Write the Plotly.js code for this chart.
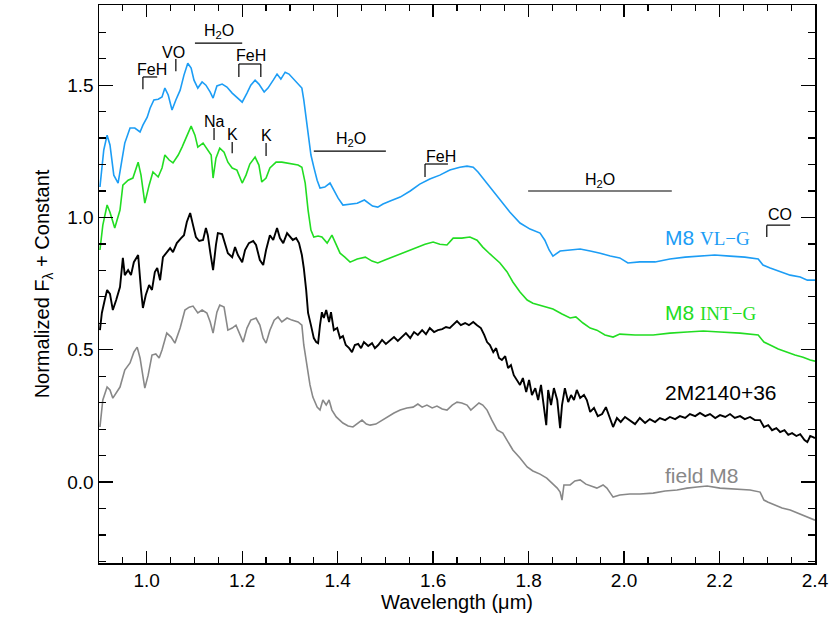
<!DOCTYPE html>
<html>
<head>
<meta charset="utf-8">
<script src="https://cdn.plot.ly/plotly-3.0.1.min.js"></script>
<style>html,body{margin:0;padding:0;background:#fff;}#chart{width:830px;height:623px;}</style>
</head>
<body>
<div id="chart"></div>
<script>
// ---- data (wavelength in micron, normalized flux + constant) ----
var vlgWave = [0.902,0.910,0.917,0.923,0.931,0.940,0.948,0.954,0.965,0.975,0.986,0.992,1.001,1.007,1.015,1.024,1.032,1.038,1.045,1.053,1.061,1.070,1.078,1.086,1.093,1.099,1.107,1.116,1.124,1.133,1.139,1.147,1.158,1.168,1.179,1.189,1.200,1.210,1.218,1.227,1.235,1.246,1.254,1.265,1.273,1.281,1.290,1.298,1.309,1.319,1.325,1.329,1.334,1.338,1.344,1.350,1.357,1.363,1.373,1.384,1.392,1.401,1.411,1.426,1.441,1.456,1.465,1.473,1.484,1.495,1.510,1.531,1.552,1.572,1.593,1.614,1.635,1.656,1.671,1.684,1.694,1.704,1.719,1.740,1.761,1.782,1.803,1.824,1.834,1.843,1.851,1.866,1.887,1.908,1.929,1.950,1.971,1.991,2.008,2.033,2.065,2.096,2.128,2.159,2.190,2.222,2.253,2.281,2.291,2.306,2.327,2.348,2.369,2.384,2.400];
var vlgFlux = [1.115,1.255,1.311,1.274,1.160,1.130,1.217,1.281,1.338,1.338,1.323,1.349,1.379,1.413,1.444,1.447,1.455,1.489,1.463,1.406,1.444,1.481,1.538,1.583,1.565,1.519,1.489,1.512,1.500,1.474,1.451,1.497,1.504,1.493,1.470,1.455,1.436,1.470,1.500,1.519,1.504,1.474,1.489,1.519,1.542,1.523,1.549,1.542,1.519,1.500,1.489,1.444,1.368,1.311,1.236,1.190,1.141,1.111,1.115,1.130,1.104,1.073,1.047,1.051,1.054,1.066,1.054,1.043,1.039,1.051,1.062,1.077,1.100,1.126,1.145,1.160,1.179,1.190,1.194,1.190,1.172,1.149,1.115,1.066,1.020,0.979,0.956,0.941,0.914,0.877,0.854,0.873,0.877,0.881,0.873,0.865,0.854,0.847,0.828,0.832,0.832,0.843,0.850,0.854,0.858,0.854,0.850,0.843,0.820,0.809,0.794,0.782,0.775,0.763,0.763];

var intgWave = [0.902,0.908,0.917,0.923,0.933,0.944,0.950,0.961,0.971,0.982,0.988,0.996,1.005,1.013,1.024,1.032,1.038,1.047,1.055,1.066,1.074,1.084,1.093,1.101,1.107,1.118,1.126,1.135,1.139,1.145,1.153,1.162,1.170,1.179,1.189,1.200,1.208,1.216,1.227,1.235,1.241,1.250,1.258,1.271,1.283,1.294,1.306,1.317,1.325,1.332,1.338,1.344,1.350,1.359,1.367,1.378,1.388,1.397,1.405,1.415,1.426,1.441,1.458,1.472,1.484,1.499,1.520,1.541,1.562,1.583,1.600,1.614,1.629,1.642,1.660,1.677,1.692,1.704,1.719,1.740,1.755,1.767,1.782,1.797,1.809,1.830,1.851,1.870,1.887,1.899,1.914,1.929,1.943,1.960,1.977,1.991,2.023,2.061,2.096,2.132,2.166,2.201,2.243,2.281,2.293,2.306,2.323,2.342,2.358,2.375,2.390,2.400];
var intgFlux = [0.877,0.971,1.047,1.020,0.960,1.028,1.122,1.141,1.149,1.209,1.160,1.054,1.122,1.172,1.153,1.187,1.236,1.217,1.206,1.236,1.266,1.311,1.345,1.311,1.266,1.281,1.262,1.236,1.149,1.224,1.262,1.247,1.209,1.187,1.179,1.130,1.160,1.202,1.228,1.198,1.134,1.149,1.187,1.209,1.209,1.206,1.202,1.198,1.190,1.130,1.028,0.952,0.926,0.930,0.926,0.903,0.933,0.896,0.865,0.850,0.831,0.843,0.850,0.835,0.828,0.839,0.854,0.869,0.884,0.899,0.907,0.899,0.896,0.922,0.922,0.926,0.914,0.888,0.862,0.828,0.794,0.756,0.718,0.688,0.676,0.665,0.654,0.635,0.620,0.624,0.601,0.582,0.574,0.556,0.548,0.559,0.556,0.556,0.563,0.567,0.571,0.567,0.563,0.556,0.529,0.518,0.503,0.491,0.480,0.472,0.461,0.457];

var objWave = [0.902,0.906,0.912,0.917,0.923,0.929,0.936,0.944,0.950,0.954,0.961,0.967,0.973,0.982,0.988,0.992,0.998,1.005,1.011,1.017,1.022,1.028,1.034,1.042,1.049,1.055,1.063,1.072,1.078,1.084,1.091,1.097,1.103,1.110,1.118,1.124,1.128,1.133,1.139,1.145,1.149,1.158,1.164,1.170,1.179,1.185,1.191,1.200,1.206,1.214,1.223,1.229,1.237,1.244,1.250,1.258,1.265,1.273,1.279,1.286,1.294,1.300,1.306,1.313,1.319,1.325,1.329,1.334,1.338,1.344,1.350,1.355,1.359,1.363,1.367,1.371,1.376,1.382,1.386,1.392,1.399,1.405,1.411,1.417,1.424,1.430,1.436,1.443,1.449,1.455,1.464,1.472,1.478,1.485,1.493,1.501,1.510,1.518,1.526,1.535,1.543,1.552,1.560,1.568,1.577,1.585,1.593,1.602,1.610,1.619,1.627,1.635,1.644,1.650,1.658,1.667,1.675,1.684,1.692,1.700,1.707,1.713,1.719,1.726,1.732,1.738,1.744,1.751,1.757,1.763,1.769,1.776,1.782,1.788,1.795,1.801,1.807,1.814,1.820,1.826,1.832,1.837,1.841,1.847,1.853,1.860,1.866,1.870,1.876,1.883,1.889,1.895,1.901,1.908,1.916,1.922,1.929,1.937,1.945,1.954,1.962,1.971,1.977,1.985,1.993,2.002,2.012,2.023,2.033,2.044,2.054,2.065,2.075,2.086,2.096,2.107,2.117,2.128,2.138,2.149,2.159,2.170,2.180,2.191,2.201,2.212,2.222,2.232,2.243,2.253,2.264,2.274,2.285,2.293,2.302,2.310,2.319,2.327,2.336,2.344,2.352,2.361,2.369,2.378,2.384,2.390,2.396,2.400];
var objFlux = [0.574,0.639,0.688,0.726,0.711,0.650,0.688,0.737,0.847,0.782,0.801,0.782,0.831,0.858,0.726,0.658,0.707,0.745,0.726,0.794,0.809,0.763,0.850,0.869,0.884,0.869,0.903,0.922,0.933,0.983,1.017,0.971,0.926,0.911,0.915,0.960,0.933,0.869,0.801,0.896,0.941,0.937,0.896,0.865,0.850,0.888,0.858,0.831,0.877,0.903,0.911,0.896,0.839,0.820,0.877,0.933,0.915,0.960,0.922,0.903,0.941,0.926,0.915,0.922,0.903,0.858,0.809,0.726,0.639,0.593,0.544,0.529,0.525,0.593,0.642,0.620,0.650,0.605,0.642,0.574,0.582,0.544,0.552,0.518,0.506,0.491,0.518,0.522,0.506,0.529,0.514,0.525,0.506,0.518,0.537,0.522,0.537,0.548,0.533,0.548,0.563,0.544,0.567,0.556,0.574,0.559,0.582,0.567,0.574,0.578,0.586,0.582,0.597,0.608,0.593,0.601,0.593,0.605,0.593,0.582,0.556,0.529,0.518,0.491,0.506,0.469,0.461,0.476,0.431,0.442,0.404,0.386,0.367,0.393,0.340,0.386,0.329,0.355,0.310,0.367,0.272,0.215,0.348,0.291,0.355,0.310,0.204,0.291,0.355,0.302,0.329,0.310,0.348,0.318,0.329,0.310,0.265,0.280,0.249,0.257,0.283,0.234,0.208,0.242,0.227,0.246,0.234,0.219,0.242,0.223,0.238,0.227,0.242,0.234,0.246,0.238,0.249,0.242,0.257,0.249,0.261,0.249,0.257,0.242,0.253,0.246,0.257,0.242,0.249,0.238,0.246,0.234,0.234,0.208,0.215,0.196,0.204,0.189,0.196,0.178,0.185,0.174,0.181,0.159,0.151,0.174,0.170,0.166];

var fieldWave = [0.902,0.908,0.917,0.923,0.929,0.938,0.944,0.954,0.965,0.973,0.980,0.986,0.992,0.996,1.003,1.011,1.019,1.026,1.032,1.042,1.051,1.059,1.070,1.080,1.089,1.097,1.107,1.116,1.126,1.133,1.139,1.147,1.153,1.162,1.170,1.179,1.187,1.195,1.202,1.210,1.218,1.229,1.237,1.244,1.250,1.258,1.267,1.275,1.283,1.294,1.304,1.317,1.325,1.329,1.336,1.342,1.348,1.357,1.363,1.369,1.376,1.382,1.388,1.397,1.411,1.422,1.432,1.443,1.451,1.460,1.468,1.480,1.493,1.505,1.518,1.531,1.545,1.558,1.568,1.577,1.587,1.598,1.608,1.619,1.629,1.640,1.650,1.660,1.671,1.679,1.688,1.696,1.704,1.713,1.723,1.734,1.746,1.757,1.767,1.782,1.797,1.809,1.824,1.838,1.849,1.860,1.866,1.870,1.874,1.887,1.897,1.908,1.920,1.933,1.943,1.956,1.964,1.977,1.991,2.012,2.033,2.061,2.086,2.111,2.132,2.153,2.174,2.201,2.232,2.264,2.285,2.293,2.302,2.316,2.331,2.348,2.363,2.375,2.390,2.400];
var fieldFlux = [0.208,0.310,0.359,0.348,0.317,0.340,0.359,0.423,0.450,0.491,0.510,0.469,0.404,0.355,0.404,0.480,0.484,0.469,0.499,0.563,0.548,0.525,0.582,0.650,0.661,0.665,0.639,0.650,0.639,0.605,0.563,0.642,0.669,0.661,0.574,0.582,0.593,0.556,0.529,0.582,0.612,0.620,0.593,0.544,0.525,0.574,0.612,0.624,0.605,0.620,0.612,0.605,0.593,0.518,0.435,0.367,0.321,0.283,0.272,0.310,0.291,0.310,0.272,0.246,0.223,0.212,0.208,0.223,0.234,0.219,0.215,0.219,0.234,0.246,0.261,0.272,0.280,0.283,0.295,0.283,0.291,0.280,0.287,0.276,0.272,0.291,0.302,0.299,0.291,0.272,0.287,0.299,0.291,0.272,0.234,0.197,0.185,0.151,0.121,0.091,0.057,0.042,0.030,0.015,-0.004,-0.023,-0.038,-0.068,-0.011,-0.011,0.004,0.008,-0.008,-0.015,-0.023,-0.011,-0.023,-0.057,-0.049,-0.045,-0.045,-0.042,-0.034,-0.030,-0.023,-0.019,-0.015,-0.023,-0.026,-0.030,-0.038,-0.068,-0.076,-0.087,-0.098,-0.106,-0.117,-0.125,-0.136,-0.144];

var seriesNames = ['M8 VL-G', 'M8 INT-G', '2M2140+36', 'field M8'];
var xTickVals = [1.0, 1.2, 1.4, 1.6, 1.8, 2.0, 2.2, 2.4];
var yTickVals = [0.0, 0.5, 1.0, 1.5];
var xRange = [0.9, 2.4];
var yRange = [-0.306, 1.803];

// ---- styling ----
var cBlue = '#1c9df5', cGreen = '#22dd22', cBlack = '#000000', cGray = '#888888';
var sans = 'Liberation Sans, Arial, Helvetica, sans-serif';
var serif = 'Liberation Serif, Times New Roman, serif';

function trace(x, y, name, color, w) {
  return {x: x, y: y, name: name, type: 'scatter', mode: 'lines',
          line: {color: color, width: w, shape: 'linear'}, hoverinfo: 'skip'};
}
var data = [
  trace(vlgWave, vlgFlux, seriesNames[0], cBlue, 1.6),
  trace(intgWave, intgFlux, seriesNames[1], cGreen, 1.6),
  trace(objWave, objFlux, seriesNames[2], cBlack, 1.9),
  trace(fieldWave, fieldFlux, seriesNames[3], cGray, 1.6),
  // invisible helper so the mirrored top/right tick axes are drawn
  {x: xRange, y: yRange, xaxis: 'x2', yaxis: 'y2', type: 'scatter', mode: 'lines',
   line: {width: 0, color: 'rgba(0,0,0,0)'}, hoverinfo: 'skip', showlegend: false}
];

// feature markers (brackets and ticks)
function seg(x0, y0, x1, y1) {
  return {type: 'line', xref: 'x', yref: 'y', x0: x0, y0: y0, x1: x1, y1: y1,
          line: {color: '#000', width: 1.2}};
}
var shapes = [
  seg(0.992, 1.531, 1.022, 1.531), seg(0.992, 1.531, 0.992, 1.485),
  seg(1.061, 1.599, 1.061, 1.553),
  seg(1.101, 1.659, 1.200, 1.659),
  seg(1.193, 1.580, 1.239, 1.580), seg(1.193, 1.580, 1.193, 1.531), seg(1.239, 1.580, 1.239, 1.531),
  seg(1.141, 1.338, 1.141, 1.293),
  seg(1.179, 1.285, 1.179, 1.243),
  seg(1.250, 1.281, 1.250, 1.232),
  seg(1.350, 1.251, 1.501, 1.251),
  seg(1.583, 1.202, 1.631, 1.202), seg(1.583, 1.202, 1.583, 1.153),
  seg(1.799, 1.100, 2.100, 1.100),
  seg(2.299, 0.971, 2.348, 0.971), seg(2.299, 0.971, 2.299, 0.926)
];

function lab(x, y, t) {
  return {x: x, y: y, xref: 'x', yref: 'y', text: t, showarrow: false,
          xanchor: 'center', yanchor: 'middle', font: {family: sans, size: 16, color: '#000'}};
}
var annotations = [
  lab(1.011, 1.561, 'FeH'),
  lab(1.056, 1.623, 'VO'),
  lab(1.151, 1.704, 'H<sub>2</sub>O'),
  lab(1.218, 1.612, 'FeH'),
  lab(1.141, 1.362, 'Na'),
  lab(1.179, 1.315, 'K'),
  lab(1.250, 1.308, 'K'),
  lab(1.428, 1.293, 'H<sub>2</sub>O'),
  lab(1.616, 1.232, 'FeH'),
  lab(1.950, 1.141, 'H<sub>2</sub>O'),
  lab(2.326, 1.011, 'CO')
];
function slab(y, t, color) {
  return {x: 2.081, y: y, xref: 'x', yref: 'y', text: t, showarrow: false,
          xanchor: 'left', yanchor: 'middle', font: {family: sans, size: 21, color: color}};
}
annotations.push(slab(0.926, 'M8 <span style="font-family:' + serif + ';font-size:19px">VL\u2212G</span>', cBlue));
annotations.push(slab(0.639, 'M8 <span style="font-family:' + serif + ';font-size:19px">INT\u2212G</span>', cGreen));
annotations.push(slab(0.340, seriesNames[2], cBlack));
annotations.push(slab(0.026, seriesNames[3], cGray));

function axisBase(range, tickvals, len, mlen, mdt) {
  return {
    range: range, tickmode: 'array', tickvals: tickvals,
    showline: true, linecolor: '#000', linewidth: 1.5,
    ticks: 'inside', ticklen: len, tickwidth: 1.3, tickcolor: '#000',
    showgrid: false, zeroline: false, tickformat: '.1f',
    tickfont: {family: sans, size: 19, color: '#000'},
    minor: {dtick: mdt, tick0: 0, ticklen: mlen, ticks: 'inside', tickwidth: 1.2, tickcolor: '#000', showgrid: false}
  };
}
var layout = {
  width: 830, height: 623,
  margin: {l: 99, r: 15, t: 5, b: 60},
  paper_bgcolor: '#fff', plot_bgcolor: '#fff',
  showlegend: false,
  xaxis: Object.assign(axisBase(xRange, xTickVals, 12, 6, 0.05), {
    title: {text: 'Wavelength (\u03bcm)', font: {family: sans, size: 20, color: '#000'}, standoff: 4}
  }),
  yaxis: Object.assign(axisBase(yRange, yTickVals, 14, 7, 0.1), {
    title: {text: 'Normalized F<sub>\u03bb</sub> + Constant', font: {family: sans, size: 20, color: '#000'}, standoff: 12}
  }),
  xaxis2: Object.assign(axisBase(xRange, xTickVals, 12, 6, 0.05), {
    overlaying: 'x', side: 'top', anchor: 'y2', showticklabels: false
  }),
  yaxis2: Object.assign(axisBase(yRange, yTickVals, 14, 7, 0.1), {
    overlaying: 'y', side: 'right', anchor: 'x2', showticklabels: false
  }),
  shapes: shapes,
  annotations: annotations
};
Plotly.newPlot('chart', data, layout, {displayModeBar: false, staticPlot: true});
</script>
</body>
</html>
